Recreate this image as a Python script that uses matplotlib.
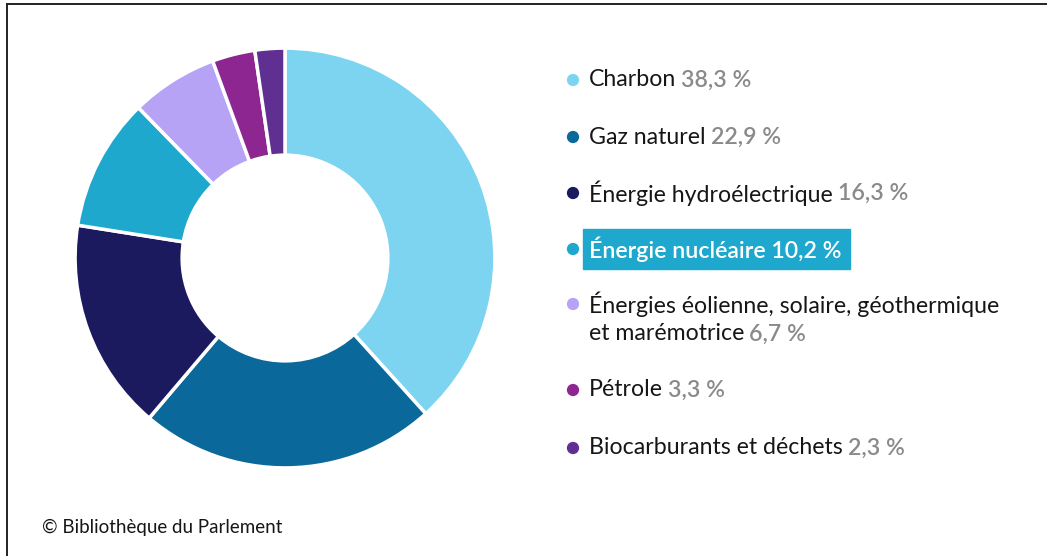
import matplotlib
matplotlib.use("Agg")
import matplotlib.pyplot as plt
from matplotlib.patches import Rectangle
from matplotlib.lines import Line2D

# ─── data ───────────────────────────────────────────────────────────────────

SOURCES = [
    "Charbon",
    "Gaz naturel",
    "Énergie hydroélectrique",
    "Énergie nucléaire",
    "Énergies éolienne, solaire, géothermique\net marémotrice",
    "Pétrole",
    "Biocarburants et déchets",
]
SHARES = [38.3, 22.9, 16.3, 10.2, 6.7, 3.3, 2.3]
COLORS = ["#7dd4f1", "#0a689b", "#1c1a5f", "#1fa8cd", "#b7a3f6", "#8e2691", "#5f2f92"]
HIGHLIGHT = "Énergie nucléaire"

W, H = 1047, 556
FONT = ["Lato", "DejaVu Sans"]
TXT = "#161616"
GREY = "#8a8a8a"


def pct(v):
    return f"{v:.1f}".replace(".", ",") + " %"


fig = plt.figure(figsize=(W / 100, H / 100), dpi=100, facecolor="white")

# ── donut ──
cx, cy, r = 285, 258, 212
ax = fig.add_axes([(cx - r) / W, (H - cy - r) / H, 2 * r / W, 2 * r / H])
ax.pie(SHARES, colors=COLORS, startangle=90, counterclock=False, radius=1,
       wedgeprops=dict(width=0.51, edgecolor="white", linewidth=2.5))
ax.set_xlim(-1.01, 1.01)
ax.set_ylim(-1.01, 1.01)
ax.set_aspect("equal")
ax.axis("off")

# ── overlay in pixel coords for the legend ──
ov = fig.add_axes([0, 0, 1, 1], facecolor="none")
ov.set_xlim(0, W)
ov.set_ylim(H, 0)
ov.axis("off")

# frame lines (top and left only)
fig.add_artist(Line2D([7 / W, 1], [1 - 3.5 / H, 1 - 3.5 / H], color="#222222", lw=1.4,
                      transform=fig.transFigure))
fig.add_artist(Line2D([7 / W, 7 / W], [0, 1 - 3.5 / H], color="#222222", lw=1.4,
                      transform=fig.transFigure))

renderer = fig.canvas.get_renderer()
ROW_Y = [80, 137, 193, 249, 304, 390, 448]
dot_x, text_x = 573, 589
fs = 16.7

for name, val, col, y in zip(SOURCES, SHARES, COLORS, ROW_Y):
    ov.scatter([dot_x], [y], s=78, color=col, edgecolors="none", zorder=3)
    lines = name.split("\n")
    if name == HIGHLIGHT:
        t = ov.text(text_x, y, f"{name} {pct(val)}", fontsize=fs, color="white",
                    va="center", ha="left", family=FONT, fontweight="semibold", zorder=4)
        bb = t.get_window_extent(renderer)
        x0 = text_x - 6
        x1 = bb.x1 + 8
        ov.add_patch(Rectangle((x0, y - 20), x1 - x0, 40, color=col, zorder=2))
        continue
    for i, ln in enumerate(lines):
        yy = y + i * 30
        t = ov.text(text_x, yy, ln, fontsize=fs, color=TXT, va="center", ha="left",
                    family=FONT, zorder=4)
        if i == len(lines) - 1:
            bb = t.get_window_extent(renderer)
            ov.text(bb.x1 + 5, yy, pct(val), fontsize=fs, color=GREY, va="center",
                    ha="left", family=FONT, fontweight="semibold", zorder=4)

# ── source ──
ov.text(42, 527, "© Bibliothèque du Parlement", fontsize=13.5, color=TXT,
        va="center", ha="left", family=FONT)

fig.savefig("out.png", dpi=100, facecolor="white")
